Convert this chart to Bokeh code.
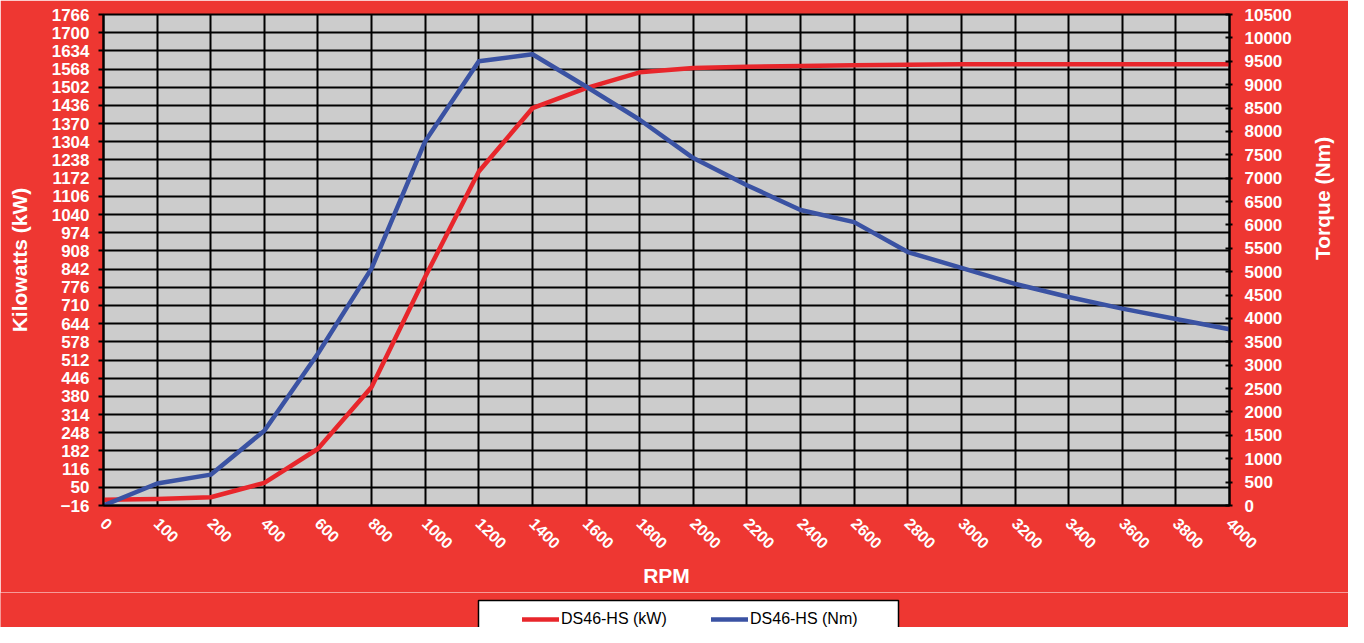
import math
from bokeh.plotting import figure
from bokeh.layouts import column
from bokeh.models import Range1d, LinearAxis, FixedTicker, Legend, LegendItem
from bokeh.embed import file_html
from bokeh.resources import INLINE

# ---------------- data ----------------
rpm_labels = ["0", "100", "200", "400", "600", "800", "1000", "1200", "1400", "1600",
              "1800", "2000", "2200", "2400", "2600", "2800", "3000", "3200", "3400",
              "3600", "3800", "4000"]
kw_values = [5, 8, 14, 66, 190, 414, 814, 1196, 1426, 1499, 1556, 1572, 1576, 1579,
             1582, 1584, 1585, 1585, 1585, 1585, 1585, 1585]
nm_values = [0, 470, 660, 1600, 3250, 5070, 7790, 9500, 9650, 8960, 8250, 7430, 6850,
             6320, 6060, 5420, 5080, 4740, 4460, 4210, 3990, 3770]
kw_ticks = list(range(-16, 1767, 66))
nm_ticks = list(range(0, 10501, 500))
series_names = ["DS46-HS (kW)", "DS46-HS (Nm)"]

x_idx = list(range(len(rpm_labels)))

BG = "#EE3732"
RED = "#E8262B"
BLUE = "#3A52A3"
FONT = "Liberation Sans"
W = 1348
H_MAIN = 592
H_LEG = 35
F_LEFT, F_RIGHT = 103, 1235   # frame edges in page pixels

p = figure(width=W, height=H_MAIN, output_backend="svg", toolbar_location=None,
           x_range=Range1d(0, len(rpm_labels) - 1), y_range=Range1d(kw_ticks[0], kw_ticks[-1]),
           min_border_left=F_LEFT, min_border_right=W - F_RIGHT, min_border_top=14,
           min_border_bottom=87, background_fill_color="#CCCCCC", border_fill_color=BG)
p.extra_y_ranges = {"nm": Range1d(nm_ticks[0], nm_ticks[-1])}
p.outline_line_color = "black"
p.outline_line_width = 2

# grid
p.xgrid.ticker = FixedTicker(ticks=x_idx)
p.ygrid.ticker = FixedTicker(ticks=kw_ticks)
for g in (p.xgrid, p.ygrid):
    g.grid_line_color = "black"
    g.grid_line_width = 2
    g.grid_line_alpha = 1.0

# x axis
xa = p.xaxis[0]
xa.ticker = FixedTicker(ticks=x_idx)
xa.major_label_overrides = {i: lab for i, lab in zip(x_idx, rpm_labels)}
xa.major_label_orientation = -math.pi / 4
xa.major_tick_out = 0
xa.major_tick_in = 0
xa.minor_tick_out = 0
xa.minor_tick_in = 0
xa.axis_line_color = "black"
xa.axis_line_width = 2
xa.major_label_text_color = "white"
xa.major_label_text_font = FONT
xa.major_label_text_font_style = "bold"
xa.major_label_text_font_size = "16px"
xa.major_label_standoff = 15
xa.axis_label = "RPM"
xa.axis_label_text_color = "white"
xa.axis_label_text_font = FONT
xa.axis_label_text_font_style = "bold"
xa.axis_label_text_font_size = "21px"
xa.axis_label_standoff = 7

# left axis
ya = p.yaxis[0]
ya.ticker = FixedTicker(ticks=kw_ticks)
ya.major_tick_out = 5
ya.major_tick_in = 0
ya.minor_tick_out = 0
ya.minor_tick_in = 0
ya.axis_line_color = "black"
ya.axis_line_width = 2
ya.major_tick_line_color = "black"
ya.major_tick_line_width = 2
ya.major_label_text_color = "white"
ya.major_label_text_font = FONT
ya.major_label_text_font_style = "bold"
ya.major_label_text_font_size = "17px"
ya.major_label_standoff = 9
ya.axis_label = "Kilowatts (kW)"
ya.axis_label_text_color = "white"
ya.axis_label_text_font = FONT
ya.axis_label_text_font_style = "bold"
ya.axis_label_text_font_size = "21px"
ya.axis_label_standoff = 18

# right axis
ra = LinearAxis(y_range_name="nm", ticker=FixedTicker(ticks=nm_ticks))
ra.major_tick_out = 3
ra.major_tick_in = 4
ra.minor_tick_out = 0
ra.minor_tick_in = 0
ra.axis_line_color = "black"
ra.axis_line_width = 2
ra.major_tick_line_color = "black"
ra.major_tick_line_width = 2
ra.major_label_text_color = "white"
ra.major_label_text_font = FONT
ra.major_label_text_font_style = "bold"
ra.major_label_text_font_size = "17px"
ra.major_label_standoff = 12
ra.axis_label = "Torque (Nm)"
ra.axis_label_text_color = "white"
ra.axis_label_text_font = FONT
ra.axis_label_text_font_style = "bold"
ra.axis_label_text_font_size = "21px"
ra.axis_label_standoff = 28
if "axis_label_orientation" in ra.properties():
    ra.axis_label_orientation = math.pi / 2
p.add_layout(ra, "right")

# lines
p.line(x_idx, kw_values, line_color=RED, line_width=4.5, line_join="round", line_cap="round")
p.line(x_idx, nm_values, line_color=BLUE, line_width=4.5, y_range_name="nm",
       line_join="round", line_cap="round")

# ---------------- legend strip (x data units == page pixels) ----------------
unaligned = "frame_align" in p.properties()
x0, x1 = (0, W) if unaligned else (F_LEFT, F_RIGHT)
p2 = figure(width=W, height=H_LEG, output_backend="svg", toolbar_location=None,
            x_range=Range1d(x0, x1), y_range=Range1d(0, H_LEG),
            x_axis_location=None, y_axis_location=None,
            min_border_left=x0, min_border_right=W - x1,
            min_border_top=0, min_border_bottom=0,
            background_fill_color=BG, border_fill_color=BG, outline_line_color=None)
if unaligned:
    p2.frame_align = False
    p.frame_align = False
p2.grid.visible = False
p2.quad(left=[478], right=[898], bottom=[-10], top=[H_LEG - 8],
        fill_color="white", line_color="black", line_width=1.5)
l_kw = p2.line(x_idx, kw_values, line_color=RED, line_width=4.5, line_cap="round", visible=False)
l_nm = p2.line(x_idx, nm_values, line_color=BLUE, line_width=4.5, line_cap="round", visible=False)
legend = Legend(items=[LegendItem(label=series_names[0], renderers=[l_kw]),
                       LegendItem(label=series_names[1], renderers=[l_nm])],
                orientation="horizontal", location=(522 - x0, -2), padding=0, spacing=14,
                glyph_width=37, glyph_height=20, label_standoff=2, label_width=136,
                label_text_font=FONT, label_text_font_size="16px", label_text_color="black",
                border_line_alpha=0, background_fill_alpha=0, inactive_fill_alpha=0, margin=0)
p2.add_layout(legend, "center")

layout = column(p, p2, spacing=0)
open("out.html", "w").write(file_html(layout, INLINE))
